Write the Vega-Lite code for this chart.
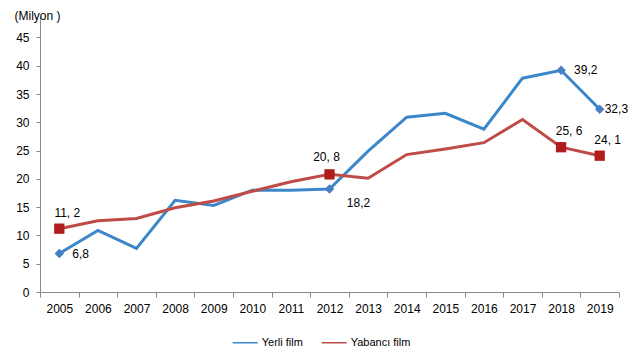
{
  "$schema": "https://vega.github.io/schema/vega-lite/v6.json",
  "width": 579,
  "height": 276,
  "autosize": {"type": "none"},
  "padding": {"left": 40, "top": 16, "right": 16, "bottom": 69},
  "background": "white",
  "config": {
    "view": {"stroke": null},
    "font": "Liberation Sans",
    "axis": {"grid": false, "domainColor": "#898989", "tickColor": "#898989", "labelColor": "#000000", "labelFontSize": 12, "labelFont": "Liberation Sans"}
  },
  "data": {
    "values": [
      {"year": "2005", "series": "Yerli film", "value": 6.8, "label": "6,8"},
      {"year": "2006", "series": "Yerli film", "value": 10.9, "label": null},
      {"year": "2007", "series": "Yerli film", "value": 7.7, "label": null},
      {"year": "2008", "series": "Yerli film", "value": 16.2, "label": null},
      {"year": "2009", "series": "Yerli film", "value": 15.3, "label": null},
      {"year": "2010", "series": "Yerli film", "value": 18.0, "label": null},
      {"year": "2011", "series": "Yerli film", "value": 18.0, "label": null},
      {"year": "2012", "series": "Yerli film", "value": 18.2, "label": "18,2"},
      {"year": "2013", "series": "Yerli film", "value": 24.9, "label": null},
      {"year": "2014", "series": "Yerli film", "value": 30.9, "label": null},
      {"year": "2015", "series": "Yerli film", "value": 31.6, "label": null},
      {"year": "2016", "series": "Yerli film", "value": 28.8, "label": null},
      {"year": "2017", "series": "Yerli film", "value": 37.8, "label": null},
      {"year": "2018", "series": "Yerli film", "value": 39.2, "label": "39,2"},
      {"year": "2019", "series": "Yerli film", "value": 32.3, "label": "32,3"},
      {"year": "2005", "series": "Yabancı film", "value": 11.2, "label": "11, 2"},
      {"year": "2006", "series": "Yabancı film", "value": 12.6, "label": null},
      {"year": "2007", "series": "Yabancı film", "value": 13.0, "label": null},
      {"year": "2008", "series": "Yabancı film", "value": 14.9, "label": null},
      {"year": "2009", "series": "Yabancı film", "value": 16.1, "label": null},
      {"year": "2010", "series": "Yabancı film", "value": 17.8, "label": null},
      {"year": "2011", "series": "Yabancı film", "value": 19.5, "label": null},
      {"year": "2012", "series": "Yabancı film", "value": 20.8, "label": "20, 8"},
      {"year": "2013", "series": "Yabancı film", "value": 20.1, "label": null},
      {"year": "2014", "series": "Yabancı film", "value": 24.3, "label": null},
      {"year": "2015", "series": "Yabancı film", "value": 25.3, "label": null},
      {"year": "2016", "series": "Yabancı film", "value": 26.4, "label": null},
      {"year": "2017", "series": "Yabancı film", "value": 30.5, "label": null},
      {"year": "2018", "series": "Yabancı film", "value": 25.6, "label": "25, 6"},
      {"year": "2019", "series": "Yabancı film", "value": 24.1, "label": "24, 1"}
    ]
  },
  "encoding": {
    "x": {
      "field": "year", "type": "ordinal", "bandPosition": 0.5,
      "scale": {"type": "band", "paddingInner": 0, "paddingOuter": 0},
      "axis": {"title": null, "labelAngle": 0, "tickBand": "extent", "tickSize": 5, "labelPadding": 6}
    },
    "y": {
      "field": "value", "type": "quantitative",
      "scale": {"domain": [0, 48.8], "nice": false},
      "axis": {
        "values": [0, 5, 10, 15, 20, 25, 30, 35, 40, 45],
        "tickSize": 4, "labelPadding": 7,
        "title": "(Milyon )", "titleAngle": 0, "titleX": -26, "titleY": -1,
        "titleAlign": "left", "titleBaseline": "middle",
        "titleFontSize": 12, "titleFontWeight": "normal", "titleFont": "Liberation Sans", "titleColor": "#000000"
      }
    }
  },
  "layer": [
    {
      "mark": {"type": "line", "strokeWidth": 3},
      "encoding": {
        "color": {
          "field": "series", "type": "nominal",
          "scale": {"domain": ["Yerli film", "Yabancı film"], "range": ["#3B87C9", "#BE4B48"]},
          "legend": {
            "title": null, "orient": "none", "direction": "horizontal",
            "legendX": 191.7, "legendY": 313, "padding": 0,
            "symbolType": "stroke", "symbolSize": 625, "symbolStrokeWidth": 1.5,
            "labelFontSize": 11, "labelFont": "Liberation Sans", "labelColor": "#000000",
            "labelOffset": 3, "columnPadding": 15
          }
        },
        "order": {"field": "series", "sort": "descending"}
      }
    },
    {
      "transform": [{"filter": "datum.label != null && datum.series == 'Yerli film'"}],
      "mark": {"type": "point", "shape": "diamond", "filled": true, "size": 90, "color": "#4680C2", "opacity": 1}
    },
    {
      "transform": [{"filter": "datum.label != null && datum.series == 'Yabancı film'"}],
      "mark": {"type": "point", "shape": "square", "filled": true, "size": 106, "color": "#B01C1C", "opacity": 1}
    },
    {
      "transform": [{"filter": "datum.series == 'Yabancı film' && (datum.year == '2005' || datum.year == '2018' || datum.year == '2019')"}],
      "mark": {"type": "text", "align": "center", "baseline": "middle", "dx": 8, "dy": -16, "fontSize": 12, "color": "#000000"},
      "encoding": {"text": {"field": "label"}}
    },
    {
      "transform": [{"filter": "datum.series == 'Yabancı film' && datum.year == '2012'"}],
      "mark": {"type": "text", "align": "center", "baseline": "middle", "dx": -3, "dy": -17, "fontSize": 12, "color": "#000000"},
      "encoding": {"text": {"field": "label"}}
    },
    {
      "transform": [{"filter": "datum.series == 'Yerli film' && (datum.year == '2005' || datum.year == '2018')"}],
      "mark": {"type": "text", "align": "left", "baseline": "middle", "dx": 13, "dy": 0, "fontSize": 12, "color": "#000000"},
      "encoding": {"text": {"field": "label"}}
    },
    {
      "transform": [{"filter": "datum.series == 'Yerli film' && datum.year == '2019'"}],
      "mark": {"type": "text", "align": "left", "baseline": "middle", "dx": 5, "dy": 0, "fontSize": 12, "color": "#000000"},
      "encoding": {"text": {"field": "label"}}
    },
    {
      "transform": [{"filter": "datum.series == 'Yerli film' && datum.year == '2012'"}],
      "mark": {"type": "text", "align": "center", "baseline": "middle", "dx": 29, "dy": 14, "fontSize": 12, "color": "#000000"},
      "encoding": {"text": {"field": "label"}}
    }
  ]
}
